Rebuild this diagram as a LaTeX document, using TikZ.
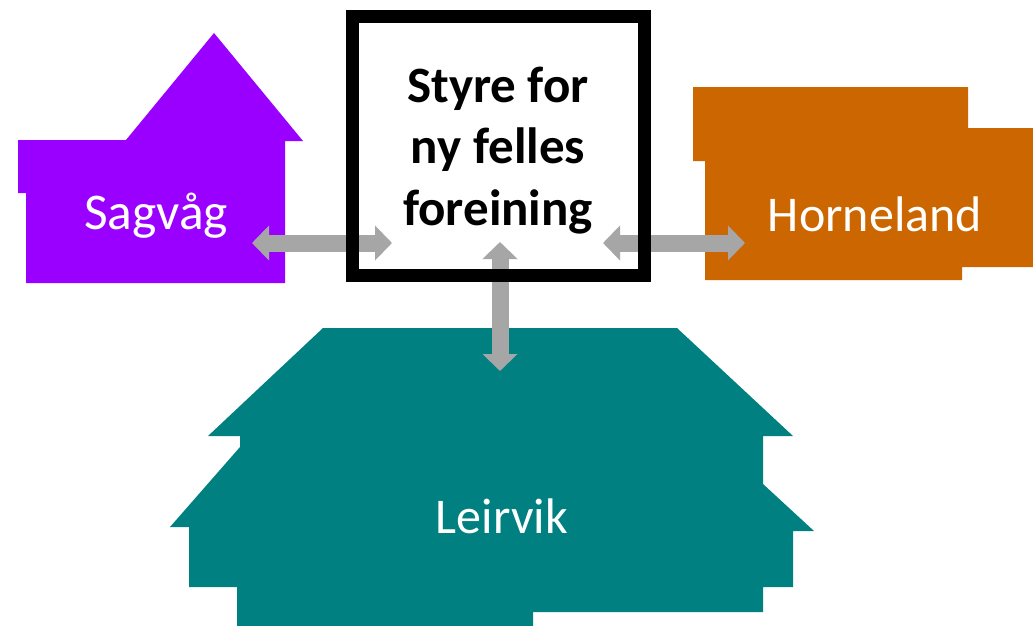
\documentclass[tikz,border=0pt]{standalone}
\usepackage{fontspec}
\setmainfont{Carlito}
\usetikzlibrary{arrows.meta}
\definecolor{purpleh}{HTML}{9900FF}
\definecolor{orangeh}{HTML}{CC6600}
\definecolor{tealh}{HTML}{008080}
\definecolor{arrowgrey}{HTML}{A6A6A6}
\tikzset{
  house/.style={draw=none},
  place/.style={anchor=base,text=white,inner sep=0pt,font=\fontsize{50}{50}\selectfont},
  board/.style={anchor=base,align=center,inner sep=0pt,font=\fontsize{51}{61.5}\selectfont\bfseries},
  link/.style={draw=arrowgrey,line width=17pt,{Triangle[width=34pt,length=17pt]}-{Triangle[width=34pt,length=17pt]}},
}
\begin{document}
\begin{tikzpicture}[x=1pt,y=-1pt]
\useasboundingbox (0,0) rectangle (1033,626);
% houses
\fill[purpleh,house] (214,33) -- (303,141) -- (285,141) -- (285,283) -- (26,283) -- (26,193) -- (18,193) -- (18,140) -- (126,140) -- cycle;
\fill[orangeh,house] (693,87) -- (968,87) -- (968,128) -- (1033,128) -- (1033,267) -- (962,267) -- (962,280) -- (705,280) -- (705,161) -- (693,161) -- cycle;
\fill[tealh,house] (323,328) -- (677,328) -- (793,436) -- (763,436) -- (763,484) -- (814,531) -- (793,531) -- (793,587) -- (763,587) -- (763,612) -- (533,612) -- (533,626) -- (237,626) -- (237,587) -- (189,587) -- (189,527) -- (170,527) -- (240,447) -- (240,436) -- (208,436) -- cycle;
% board interior
\fill[white] (352.5,16.5) rectangle (644.5,275.5);
% connector ends
\coordinate (sagvagend) at (252,243);
\coordinate (boardleft) at (392,243);
\coordinate (boardright) at (603,243);
\coordinate (hornelandend) at (745,243);
\coordinate (boardbottom) at (500,242);
\coordinate (leirvikend) at (500,371);
\draw[link] (sagvagend) -- (boardleft);
\draw[link] (boardright) -- (hornelandend);
\draw[link] (boardbottom) -- (leirvikend);
% board frame
\draw[black,line width=13pt,miter limit=10] (352.5,16.5) rectangle (644.5,275.5);
% labels
\node[place,font=\fontsize{51.5}{51.5}\selectfont] (sagvag) at (156,229) {Sagvåg};
\node[place] (horneland) at (875,231) {Horneland};
\node[place] (leirvik) at (502,533) {Leirvik};
\node[board] (styre) at (498,225) {Styre for\\ny felles\\foreining};
\end{tikzpicture}
\end{document}
